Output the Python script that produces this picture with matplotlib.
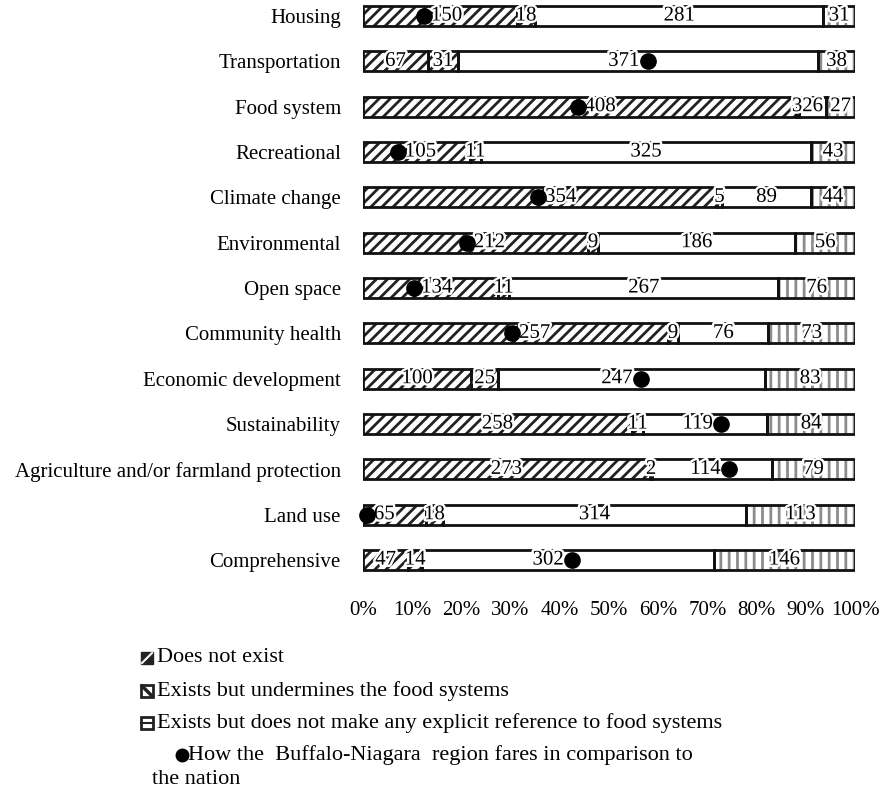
import numpy as np
import matplotlib.pyplot as plt
import matplotlib.patheffects as pe
from matplotlib.patches import Rectangle
from matplotlib.lines import Line2D

plt.rcParams['font.family'] = ['Liberation Serif', 'DejaVu Serif']
plt.rcParams['hatch.linewidth'] = 2.0

# ---- data ----
categories = ['Housing', 'Transportation', 'Food system', 'Recreational', 'Climate change',
              'Environmental', 'Open space', 'Community health', 'Economic development',
              'Sustainability', 'Agriculture and/or farmland protection', 'Land use',
              'Comprehensive']
does_not_exist = [150, 67, 408, 105, 354, 212, 134, 257, 100, 258, 273, 65, 47]
undermines = [18, 31, 3, 11, 5, 9, 11, 9, 25, 11, 2, 18, 14]
no_reference = [281, 371, 26, 325, 89, 186, 267, 76, 247, 119, 114, 314, 302]
fourth_group = [31, 38, 27, 43, 44, 56, 76, 73, 83, 84, 79, 113, 146]
# position of the Buffalo-Niagara marker (% of bar)
region_pct = [12.4, 57.9, 43.6, 7.1, 35.6, 21.1, 10.4, 30.3, 56.5, 72.8, 74.4, 0.8, 42.5]
xtick_labels = ['0%', '10%', '20%', '30%', '40%', '50%', '60%', '70%', '80%', '90%', '100%']

FS = 15
LFS = 16
W, H = 880, 789
fig = plt.figure(figsize=(W / 100, H / 100), dpi=100)
ax = fig.add_axes([363 / W, 1 - 580 / H, 492 / W, 580 / H])

series = np.array([does_not_exist, undermines, no_reference, fourth_group], dtype=float)
frac = series / series.sum(axis=0)
n = len(categories)
y = np.arange(n)
hatches = ['///', '///', None, '||']
hatch_cols = ['#222222', '#222222', 'white', '#8c8c8c']
bar_h = 0.44

halo = [pe.withStroke(linewidth=3.5, foreground='white')]
dots = np.array(region_pct) / 100

left = np.zeros(n)
for k in range(4):
    ax.barh(y, frac[k], left=left, height=bar_h, color='white',
            edgecolor=hatch_cols[k], hatch=hatches[k], linewidth=0, zorder=1)
    ax.barh(y, frac[k], left=left, height=bar_h, fill=False,
            edgecolor='#111111', linewidth=2, zorder=2)
    for i in range(n):
        lo, w = left[i], frac[k][i]
        c = lo + w / 2
        txt = str(int(series[k][i]))
        if lo <= dots[i] < lo + w:
            if dots[i] < c:
                ax.annotate(txt, (dots[i], y[i]), xytext=(5, 0), textcoords='offset points',
                            ha='left', va='center', fontsize=FS, path_effects=halo, zorder=4)
            else:
                ax.annotate(txt, (dots[i], y[i]), xytext=(-6, 0), textcoords='offset points',
                            ha='right', va='center', fontsize=FS, path_effects=halo, zorder=4)
        else:
            ax.text(c, y[i], txt, ha='center', va='center', fontsize=FS,
                    path_effects=halo, zorder=4)
    left += frac[k]

ax.plot(dots, y, 'o', color='black', markersize=11, zorder=5, clip_on=False)

ax.set_xlim(0, 1)
ax.set_ylim(12.44, -0.353)
ax.set_yticks(y)
ax.set_yticklabels(categories, fontsize=FS)
ax.set_xticks(np.linspace(0, 1, 11))
ax.set_xticklabels(xtick_labels, fontsize=FS)
ax.tick_params(axis='y', length=0, pad=16)
ax.tick_params(axis='x', length=0, pad=15)
for s in ax.spines.values():
    s.set_visible(False)

# ---- legend drawn by hand ----
def fx(px):
    return px / W

def fy(py):
    return 1 - py / H

sq = 12
rows = [658, 691, 723]
labels = ['Does not exist', 'Exists but undermines the food systems',
          'Exists but does not make any explicit reference to food systems']
x0 = 141
for r, lab in zip(rows, labels):
    fig.text(fx(157), fy(r), lab, fontsize=LFS, va='center', ha='left')

# icon 1: dark square with white "/"
fig.add_artist(Rectangle((fx(x0), fy(rows[0] + sq / 2)), sq / W, sq / H,
                         facecolor='#222222', edgecolor='#222222', lw=1, transform=fig.transFigure))
fig.add_artist(Line2D([fx(x0 + 1), fx(x0 + sq - 1)], [fy(rows[0] + sq / 2 - 1), fy(rows[0] - sq / 2 + 1)],
                      color='white', lw=1.5, transform=fig.transFigure))
# icon 2: framed square with "\"
fig.add_artist(Rectangle((fx(x0), fy(rows[1] + sq / 2)), sq / W, sq / H,
                         facecolor='white', edgecolor='#222222', lw=2, transform=fig.transFigure))
fig.add_artist(Line2D([fx(x0 + 1), fx(x0 + sq - 1)], [fy(rows[1] - sq / 2 + 1), fy(rows[1] + sq / 2 - 1)],
                      color='#222222', lw=2.5, transform=fig.transFigure))
# icon 3: framed square with mid line
fig.add_artist(Rectangle((fx(x0), fy(rows[2] + sq / 2)), sq / W, sq / H,
                         facecolor='white', edgecolor='#222222', lw=2, transform=fig.transFigure))
fig.add_artist(Line2D([fx(x0), fx(x0 + sq)], [fy(rows[2]), fy(rows[2])],
                      color='#222222', lw=1.5, transform=fig.transFigure))

fig.add_artist(Line2D([fx(182)], [fy(755)], marker='o', color='black', markersize=9,
                      linestyle='none', transform=fig.transFigure))
fig.text(fx(188), fy(755), 'How the  Buffalo-Niagara  region fares in comparison to',
         fontsize=LFS, va='center', ha='left')
fig.text(fx(152), fy(780), 'the nation', fontsize=LFS, va='center', ha='left')

fig.savefig('out.png', dpi=100)
